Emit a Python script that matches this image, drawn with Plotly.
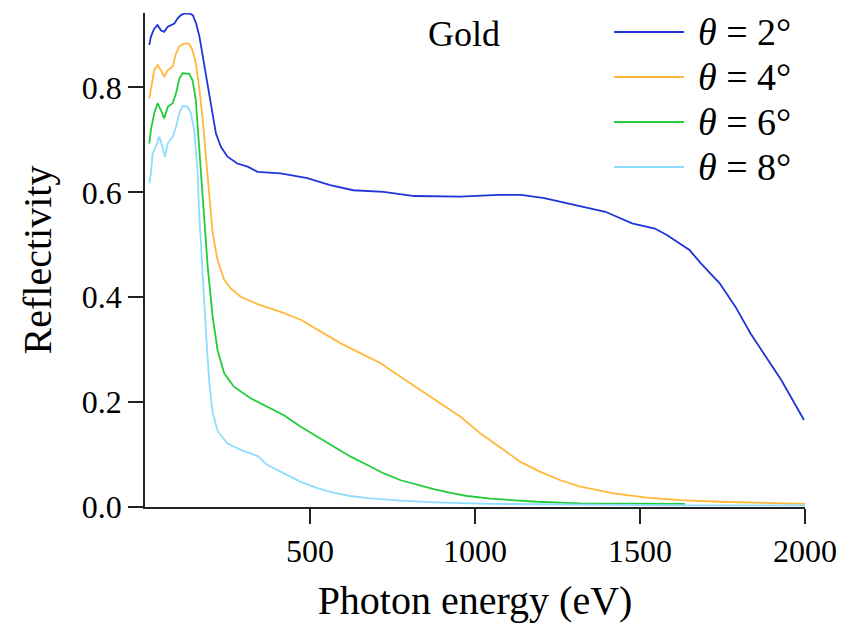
import plotly.graph_objects as go

# ---- data ----
energy_2 = [13, 18, 28, 38, 48, 58, 69, 79, 89, 99, 109, 119, 134, 145, 155, 165, 175, 185, 195, 205,
            215, 230, 250, 280, 311, 341, 411, 492, 561, 631, 723, 816, 955, 1071, 1140, 1210, 1302,
            1395, 1476, 1545, 1580, 1650, 1684, 1742, 1789, 1835, 1881, 1928, 1997]
refl_2 = [0.881, 0.897, 0.912, 0.919, 0.909, 0.906, 0.916, 0.919, 0.922, 0.932, 0.938, 0.941, 0.941,
          0.938, 0.922, 0.897, 0.859, 0.820, 0.782, 0.744, 0.712, 0.687, 0.668, 0.655, 0.649, 0.639,
          0.636, 0.627, 0.614, 0.604, 0.601, 0.593, 0.592, 0.595, 0.595, 0.589, 0.576, 0.563, 0.541,
          0.531, 0.519, 0.490, 0.465, 0.426, 0.382, 0.331, 0.287, 0.242, 0.166]

energy_4 = [13, 18, 28, 38, 48, 58, 69, 84, 94, 104, 119, 134, 144, 154, 164, 175, 185, 195, 205, 220,
            240, 260, 290, 341, 411, 472, 533, 593, 654, 714, 775, 835, 896, 956, 1017, 1077, 1138,
            1198, 1259, 1319, 1420, 1521, 1622, 1743, 1894, 2000]
refl_4 = [0.779, 0.798, 0.833, 0.843, 0.833, 0.820, 0.833, 0.840, 0.865, 0.878, 0.884, 0.883, 0.871,
          0.846, 0.801, 0.738, 0.662, 0.585, 0.522, 0.471, 0.433, 0.417, 0.401, 0.387, 0.372, 0.357,
          0.334, 0.312, 0.293, 0.274, 0.248, 0.223, 0.198, 0.172, 0.140, 0.113, 0.086, 0.067, 0.051,
          0.039, 0.026, 0.018, 0.013, 0.010, 0.007, 0.006]

energy_6 = [13, 18, 28, 38, 48, 58, 69, 84, 94, 104, 114, 134, 144, 154, 164, 169, 179, 190, 205, 220,
            240, 270, 321, 371, 421, 472, 522, 573, 623, 674, 724, 775, 825, 875, 926, 976, 1047,
            1107, 1188, 1319, 1636]
refl_6 = [0.693, 0.719, 0.751, 0.770, 0.757, 0.741, 0.763, 0.770, 0.789, 0.817, 0.827, 0.826, 0.814,
          0.776, 0.687, 0.643, 0.553, 0.458, 0.363, 0.299, 0.255, 0.229, 0.207, 0.191, 0.175, 0.153,
          0.134, 0.115, 0.096, 0.080, 0.064, 0.051, 0.042, 0.034, 0.027, 0.021, 0.016, 0.013, 0.010,
          0.007, 0.006]

energy_8 = [13, 18, 23, 33, 43, 53, 60, 69, 84, 94, 104, 114, 129, 139, 149, 159, 164, 175, 185, 195,
            205, 220, 250, 290, 341, 371, 421, 472, 522, 573, 623, 674, 775, 875, 1047, 1300, 1600, 2000]
refl_8 = [0.617, 0.636, 0.674, 0.687, 0.706, 0.687, 0.668, 0.693, 0.706, 0.725, 0.751, 0.765, 0.763,
          0.751, 0.719, 0.643, 0.563, 0.427, 0.331, 0.236, 0.180, 0.145, 0.121, 0.109, 0.097, 0.080,
          0.064, 0.048, 0.036, 0.027, 0.021, 0.017, 0.012, 0.009, 0.006, 0.004, 0.003, 0.003]

series_labels = ["<i>θ</i> = 2°", "<i>θ</i> = 4°", "<i>θ</i> = 6°", "<i>θ</i> = 8°"]
series_colors = ["#1f35d8", "#ffb83a", "#22cc3a", "#8fdcff"]
x_tick_vals = [500, 1000, 1500, 2000]
y_tick_vals = [0.0, 0.2, 0.4, 0.6, 0.8]
y_tick_text = ["0.0", "0.2", "0.4", "0.6", "0.8"]

FONT = "Liberation Serif, Times New Roman, serif"

fig = go.Figure()
for xs, ys, name, col in zip([energy_2, energy_4, energy_6, energy_8],
                             [refl_2, refl_4, refl_6, refl_8],
                             series_labels, series_colors):
    fig.add_trace(go.Scatter(x=xs, y=ys, mode="lines", name=name,
                             line=dict(color=col, width=1.8), showlegend=False))

# manual legend (long line samples like the reference)
legend_y = [0.9615, 0.8704, 0.7794, 0.6883]
for name, col, ly in zip(series_labels, series_colors, legend_y):
    fig.add_shape(type="line", xref="paper", yref="paper", x0=0.7106, x1=0.8167, y0=ly, y1=ly,
                  line=dict(color=col, width=1.8))
    fig.add_annotation(xref="paper", yref="paper", x=0.835, y=ly, text=name, showarrow=False,
                       xanchor="left", yanchor="middle", font=dict(family=FONT, size=38, color="black"))

fig.add_annotation(xref="paper", yref="paper", x=0.483, y=1.0, text="Gold", showarrow=False,
                   xanchor="center", yanchor="top", borderpad=0,
                   font=dict(family=FONT, size=36, color="black"))

fig.update_layout(
    width=850, height=630,
    margin=dict(l=137, r=53, t=5, b=131),
    paper_bgcolor="white", plot_bgcolor="white",
    font=dict(family=FONT, color="black"),
)
fig.update_xaxes(range=[0, 2000], tickvals=x_tick_vals, ticks="outside", ticklen=15, tickwidth=1.5,
                 tickcolor="#222", showline=True, linecolor="#222", linewidth=1.5, showgrid=False,
                 zeroline=False, tickfont=dict(family=FONT, size=32),
                 title=dict(text="Photon energy (eV)", font=dict(family=FONT, size=40), standoff=18))
fig.update_yaxes(range=[0, 0.942], tickvals=y_tick_vals, ticktext=y_tick_text, ticks="outside",
                 ticklen=15, tickwidth=1.5, tickcolor="#222", showline=True, linecolor="#222",
                 linewidth=1.5, showgrid=False, zeroline=False, tickfont=dict(family=FONT, size=32),
                 title=dict(text="Reflectivity", font=dict(family=FONT, size=40), standoff=18))

fig.write_html("out.html")
